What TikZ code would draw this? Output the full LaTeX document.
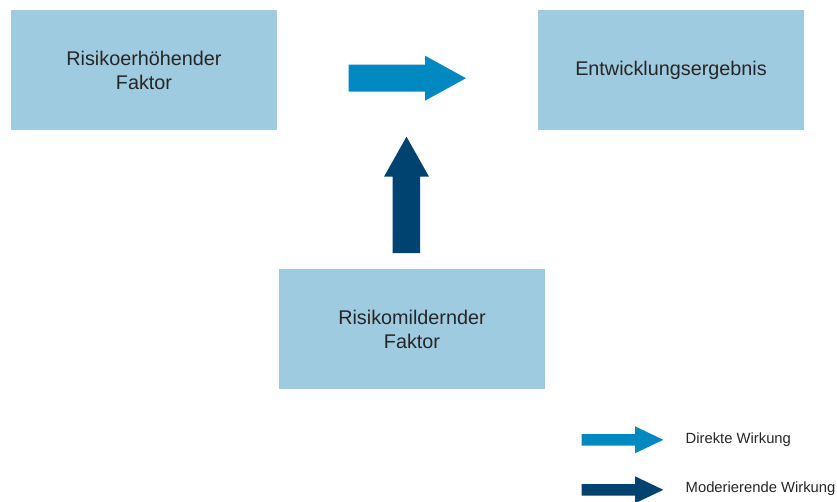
\documentclass[tikz,border=0pt]{standalone}
\usepackage{fontspec}
\setmainfont{Liberation Sans}
\definecolor{boxblue}{RGB}{158,203,223}
\definecolor{directblue}{RGB}{0,136,192}
\definecolor{moddark}{RGB}{0,67,112}
\begin{document}
\begin{tikzpicture}[x=1pt,y=-1pt,
  factorbox/.style={fill=boxblue,draw=none,minimum width=266pt,minimum height=120pt,
    align=center,inner sep=0pt,font=\fontsize{19.8}{24}\selectfont,text=black!85},
  legendtext/.style={anchor=west,inner sep=0pt,font=\fontsize{14.8}{18}\selectfont,text=black!85}]
\useasboundingbox (0,0) rectangle (837,501);
\fill[white] (0,0) rectangle (837,501);
\node[factorbox] (risk) at (144,70.2) {Risikoerhöhender\\Faktor};
\node[factorbox] (outcome) at (671,70.2) {Entwicklungsergebnis};
\node[factorbox] (protect) at (412,329) {Risikomildernder\\Faktor};
% direct effect arrow
\fill[directblue] (348.5,64.5) -- (425,64.5) -- (425,55.7) -- (466,78.2) -- (425,100.7) -- (425,91.7) -- (348.5,91.7) -- cycle;
% moderating arrow
\fill[moddark] (392.7,253) -- (392.7,176.7) -- (384,176.7) -- (406.5,136.7) -- (429,176.7) -- (420,176.7) -- (420,253) -- cycle;
% legend
\fill[directblue] (581.7,434) -- (635,434) -- (635,426.3) -- (663.3,439.8) -- (635,453.3) -- (635,445.6) -- (581.7,445.6) -- cycle;
\fill[moddark] (581.7,484) -- (635,484) -- (635,476.3) -- (663.3,489.8) -- (635,503.3) -- (635,495.6) -- (581.7,495.6) -- cycle;
\node[legendtext] (l1) at (685.5,439.5) {Direkte Wirkung};
\node[legendtext] (l2) at (685.5,489) {Moderierende Wirkung};
\end{tikzpicture}
\end{document}
